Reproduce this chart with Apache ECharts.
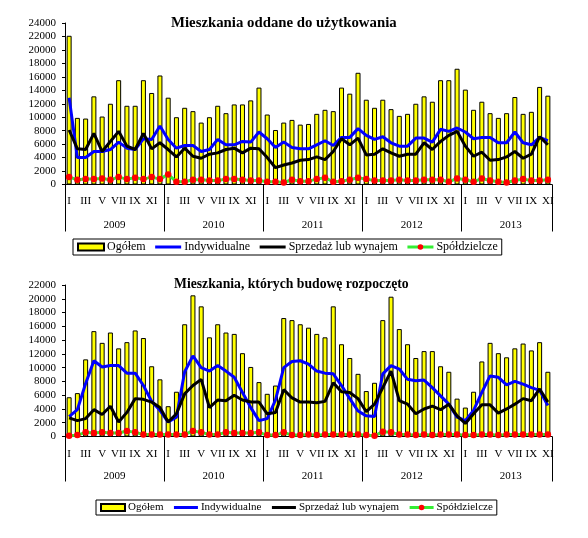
<!DOCTYPE html>
<html><head><meta charset="utf-8">
<script src="https://cdn.jsdelivr.net/npm/echarts@6/dist/echarts.min.js"></script>
<style>html,body{margin:0;padding:0;background:#fff}#c{width:588px;height:538px}</style>
</head><body><div id="c"></div><script>
const monthNames = ['I','II','III','IV','V','VI','VII','VIII','IX','X','XI','XII'];
const years = ['2009','2010','2011','2012','2013'];
const lastYearMonths = 11;
const seriesNames = ['Ogółem','Indywidualne','Sprzedaż lub wynajem','Spółdzielcze'];
const titles = ['Mieszkania oddane do użytkowania','Mieszkania, których budowę rozpoczęto'];

// Panel 1: Mieszkania oddane do użytkowania
const ogolem1 = [
22100, 9900, 9800,13100,10100,12000,15500,11700,11700,15500,13600,16200,
12900,10000,11400,10900, 9200,10000,11700,10600,11900,11900,12500,14400,
10400, 8100, 9200, 9600, 8900, 9000,10500,11100,10900,14400,13500,16600,
12600,11400,12600,11200,10200,10500,12000,13100,12300,15500,15500,17200,
14100,11100,12300,10600, 9900,10600,13000,10500,10800,14500,13200];
const indyw1 = [
12900, 4000, 4000, 4900, 4900, 5200, 6300, 5400, 5200, 6800, 6700, 8700,
 6700, 5400, 5800, 5800, 4900, 5200, 6700, 5900, 5900, 6400, 6300, 7800,
 6800, 5500, 6300, 5500, 5300, 5300, 5900, 6500, 5800, 7000, 7000, 8300,
 7300, 6700, 7100, 6200, 5700, 5700, 6900, 6900, 6300, 8200, 7900, 8400,
 7800, 6800, 7000, 7000, 6200, 6200, 7800, 6200, 5900, 7000, 6500];
const sprz1 = [
 8100, 5300, 5200, 7600, 4900, 6400, 7900, 5700, 5200, 7600, 5300, 6200,
 5200, 4100, 5400, 4200, 3900, 4500, 4700, 5200, 5400, 4700, 5400, 5300,
 4000, 2500, 2900, 3200, 3600, 3700, 4100, 3700, 4900, 6800, 5900, 6900,
 4400, 4500, 5300, 4700, 4200, 4500, 4500, 6200, 5200, 6400, 7300, 7900,
 5700, 4200, 4800, 3600, 3700, 4100, 4900, 3900, 4500, 7100, 5900];
const spold1 = [
 1100, 700, 800, 800, 900, 700,1100, 800,1000, 800,1100, 800,
 1500, 400, 400, 700, 700, 600, 600, 800, 800, 700, 600, 600,
  400, 400, 300, 700, 500, 500, 800,1000, 400, 500, 700,1000,
  800, 600, 600, 600, 700, 600, 600, 700, 700, 700, 400, 900,
  700, 400, 900, 600, 400, 300, 600, 800, 600, 600, 700];

// Panel 2: Mieszkania, których budowę rozpoczęto
const ogolem2 = [
 5700, 6300,11200,15300,13600,15100,12800,13700,15400,14300,10200, 8300,
 4400, 6500,16300,20500,18900,14400,16300,15100,14900,12100,10100, 7900,
 6200, 7400,17200,16900,16300,15800,14900,14400,18900,13400,11400, 9100,
 6600, 7800,16900,20300,15600,13400,11400,12400,12400,10200, 9400, 5500,
 4200, 6500,10900,13600,12100,11500,12800,13500,12500,13700, 9400];
const indyw2 = [
 2900, 3900, 7700,11000,10100,10300,10300, 9200, 9200, 7400, 5100, 3800,
 2100, 2800, 9400,11700,10000, 9500,10300, 9500, 8600, 6400, 4200, 2300,
 2600, 5300,10000,10900,11000,10500, 9500, 9200, 9100, 7400, 5500, 3700,
 3000, 2900, 9100,10300, 9800, 8300, 8100, 8200, 7100, 5900, 4700, 2800,
 2300, 3800, 6400, 8800, 8600, 7500, 8000, 7600, 7100, 6700, 4500];
const sprz2 = [
 2700, 2300, 2600, 3900, 3200, 4400, 2100, 3500, 5500, 5400, 5000, 4200,
 2100, 3300, 6200, 7400, 8300, 4200, 5300, 5200, 6000, 5300, 5000, 5000,
 3300, 3500, 6800, 5600, 5000, 5000, 4900, 5100, 7800, 6500, 6400, 5500,
 3600, 4700, 7100, 9500, 5200, 4700, 3300, 4000, 4400, 3900, 4700, 3000,
 1900, 3300, 4600, 4600, 3400, 4000, 4700, 5500, 5200, 6900, 5000];
const spold2 = [
  100, 200, 600, 500, 600, 500, 500, 800, 600, 300, 300, 300,
  300, 300, 300, 800, 600, 300, 300, 600, 500, 500, 500, 600,
  200, 200, 600, 200, 200, 300, 200, 300, 300, 300, 300, 300,
  200, 100, 700, 600, 300, 300, 200, 300, 200, 300, 300, 300,
  200, 200, 300, 300, 200, 300, 300, 300, 300, 300, 300];

const yMax = [24000, 22000];
const yStep = 2000;

const categories = [];
years.forEach((y, yi) => {
  const n = yi === years.length - 1 ? lastYearMonths : 12;
  for (let m = 0; m < n; m++) categories.push(monthNames[m] + ' ' + y);
});
const N = categories.length;

const FONT = "'Liberation Serif', 'Times New Roman', serif";
const panels = [
  {data:[ogolem1, indyw1, sprz1, spold1], top:23, height:161.5, monthMargin:11, yearMargin:35, sepLen:47,
   titleLeft:171, titleTop:16, titleSize:14.8, legendLeft:73, legendTop:239, legendFont:12, legendItemW:26, legendGap:8},
  {data:[ogolem2, indyw2, sprz2, spold2], top:285, height:151.5, monthMargin:12, yearMargin:34, sepLen:45,
   titleLeft:174, titleTop:277, titleSize:13.7, legendLeft:96, legendTop:500, legendFont:11, legendItemW:24, legendGap:9}
];

const option = {
  animation: false,
  backgroundColor: '#fff',
  title: [], grid: [], xAxis: [], yAxis: [], series: [], legend: []
};

panels.forEach((p, i) => {
  option.title.push({text: titles[i], left: p.titleLeft, top: p.titleTop, padding: 0,
    textStyle: {fontFamily: FONT, fontWeight: 'bold', fontSize: p.titleSize, color: '#000'}});
  option.grid.push({left: 65, width: 487, top: p.top, height: p.height, outerBoundsMode: 'none', containLabel: false});
  option.xAxis.push({
    type: 'category', gridIndex: i, data: categories, boundaryGap: true, position: 'bottom',
    axisLine: {lineStyle: {color: '#000', width: 1}}, axisTick: {show: false},
    axisLabel: {interval: 1, margin: p.monthMargin, fontFamily: FONT, fontSize: 11, color: '#000',
      formatter: v => v.split(' ')[0]},
    splitLine: {show: false}
  });
  option.xAxis.push({
    type: 'value', gridIndex: i, min: 0, max: N, interval: 12, position: 'bottom',
    axisLine: {show: false}, axisTick: {show: true, length: p.sepLen, lineStyle: {color: '#000', width: 1}},
    axisLabel: {show: false}, splitLine: {show: false}
  });
  option.xAxis.push({
    type: 'value', gridIndex: i, min: 0, max: N, interval: 6, position: 'bottom',
    axisLine: {show: false}, axisTick: {show: false}, splitLine: {show: false},
    axisLabel: {margin: p.yearMargin, fontFamily: FONT, fontSize: 11, color: '#000',
      showMinLabel: true, showMaxLabel: true,
      formatter: v => (v % 12 === 6 ? years[(v - 6) / 12] : '')}
  });
  option.yAxis.push({
    type: 'value', gridIndex: i, min: 0, max: yMax[i], interval: yStep,
    axisLine: {show: true, lineStyle: {color: '#000', width: 1}},
    axisTick: {show: true, length: 3, lineStyle: {color: '#000'}},
    splitLine: {show: false},
    axisLabel: {margin: 9, fontFamily: FONT, fontSize: 11, color: '#000', formatter: v => String(v)}
  });
  const xi = i * 3;
  option.series.push({
    name: seriesNames[0], type: 'bar', xAxisIndex: xi, yAxisIndex: i, data: p.data[0], barWidth: 5,
    itemStyle: {color: '#FFFF00', borderColor: '#000', borderWidth: 1}
  });
  option.series.push({
    name: seriesNames[1], type: 'line', xAxisIndex: xi, yAxisIndex: i, data: p.data[1],
    symbol: 'none', itemStyle: {color: '#0000FF'}, lineStyle: {color: '#0000FF', width: 3}
  });
  option.series.push({
    name: seriesNames[2], type: 'line', xAxisIndex: xi, yAxisIndex: i, data: p.data[2],
    symbol: 'none', itemStyle: {color: '#000'}, lineStyle: {color: '#000', width: 3}
  });
  option.series.push({
    name: seriesNames[3], type: 'line', xAxisIndex: xi, yAxisIndex: i, data: p.data[3],
    symbol: 'circle', symbolSize: 6.5, showAllSymbol: true,
    itemStyle: {color: '#FF0000'}, lineStyle: {color: '#33EE33', width: 3}
  });
  option.legend.push({
    left: p.legendLeft, top: p.legendTop, orient: 'horizontal',
    borderColor: '#000', borderWidth: 1, borderRadius: 0, padding: [2, 4],
    itemGap: p.legendGap, itemWidth: p.legendItemW, itemHeight: 7, selectedMode: false,
    lineStyle: {width: 3},
    textStyle: {fontFamily: FONT, fontSize: p.legendFont, color: '#000', padding: [0, 0, 0, -2]},
    data: [
      {name: seriesNames[0], icon: 'rect'},
      {name: seriesNames[1], itemStyle: {opacity: 0}},
      {name: seriesNames[2], itemStyle: {opacity: 0}},
      seriesNames[3]
    ]
  });
});

const chart = echarts.init(document.getElementById('c'), null, {renderer: 'canvas'});
chart.setOption(option);
</script></body></html>
